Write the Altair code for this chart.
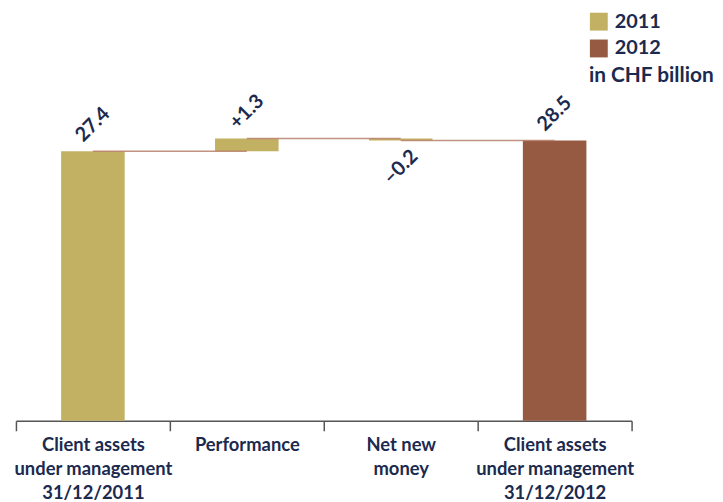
import altair as alt
import pandas as pd

categories = [
    "Client assets\nunder management\n31/12/2011",
    "Performance",
    "Net new\nmoney",
    "Client assets\nunder management\n31/12/2012",
]
values = [27.4, 1.3, -0.2, 28.5]
kinds = ["total", "delta", "delta", "total"]
years = ["2011", "2011", "2011", "2012"]
value_labels = ["27.4", "+1.3", "\u20130.2", "28.5"]

rows = []
level = 0.0
for c, v, k, yr, lb in zip(categories, values, kinds, years, value_labels):
    if k == "total":
        start, end = 0.0, v
    else:
        start, end = level, level + v
    level = end
    rows.append(dict(cat=c, start=start, end=end, year=yr, label=lb,
                     top=max(start, end), bottom=min(start, end),
                     up=(v >= 0)))
df = pd.DataFrame(rows)

conn = pd.DataFrame([
    dict(cat=categories[i], cat2=categories[i + 1], lvl=rows[i]["end"])
    for i in range(len(categories) - 1)
])

NAVY = "#1B2A4E"
FONT = "Lato"

xenc = alt.X("cat:N", sort=categories, title=None,
             scale=alt.Scale(paddingInner=0, paddingOuter=0),
             axis=alt.Axis(labelAngle=0,
                           labelExpr="isValid(datum.value) ? split(datum.value, '\\n') : ''",
                           tickBand="extent", labelFont=FONT, labelFontSize=18.5,
                           labelFontWeight="bold", labelColor=NAVY,
                           labelLineHeight=24, labelPadding=5, labelLimit=300,
                           domainColor="#555555", tickColor="#555555",
                           tickSize=10, domainWidth=1.5, tickWidth=1.5))
yscale = alt.Scale(domain=[0, 41.8], nice=False, zero=True)

bars = alt.Chart(df).mark_bar(size=64).encode(
    x=xenc,
    y=alt.Y("start:Q", scale=yscale, axis=None),
    y2="end:Q",
    color=alt.Color("year:N",
                    scale=alt.Scale(domain=["2011", "2012"], range=["#C3B163", "#965A43"]),
                    legend=alt.Legend(title="in CHF billion", orient="none",
                                      legendX=577, legendY=2,
                                      titleOrient="bottom", titleAnchor="start",
                                      titleFont=FONT, titleFontSize=21,
                                      titleFontWeight="bold", titleColor=NAVY,
                                      titlePadding=7, titleLimit=300,
                                      labelFont=FONT, labelFontSize=20,
                                      labelFontWeight="bold", labelColor=NAVY,
                                      labelOffset=6, symbolType="square",
                                      symbolSize=324, symbolStrokeWidth=0,
                                      symbolOpacity=1, rowPadding=7)),
)

connectors = alt.Chart(conn).mark_rule(color="#B9806B", strokeWidth=1.5, opacity=0.85).encode(
    x=alt.X("cat:N", sort=categories),
    x2="cat2:N",
    y=alt.Y("lvl:Q", scale=yscale),
)

txt_up = alt.Chart(df).transform_filter("datum.up").mark_text(
    angle=315, align="center", baseline="middle", dx=19, dy=-19,
    font=FONT, fontSize=20, fontWeight="bold", color=NAVY
).encode(
    x=alt.X("cat:N", sort=categories),
    y=alt.Y("top:Q", scale=yscale),
    text="label:N",
)

txt_down = alt.Chart(df).transform_filter("!datum.up").mark_text(
    angle=315, align="center", baseline="middle", dx=-19, dy=19,
    font=FONT, fontSize=20, fontWeight="bold", color=NAVY
).encode(
    x=alt.X("cat:N", sort=categories),
    y=alt.Y("bottom:Q", scale=yscale),
    text="label:N",
)

chart = alt.layer(bars, connectors, txt_up, txt_down).properties(
    width=620, height=414,
    padding={"left": 5, "top": 0, "right": 0, "bottom": 0},
).configure_view(stroke=None)

chart.save("out.html", embed_options={"renderer": "svg", "actions": False})
